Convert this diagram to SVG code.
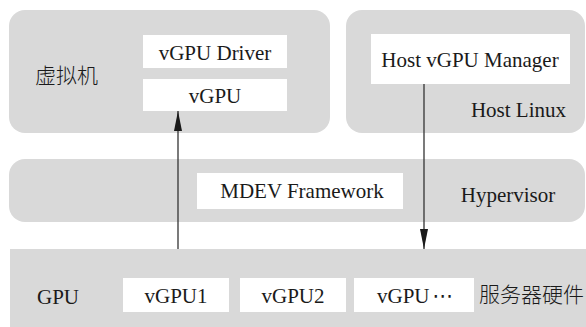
<svg xmlns="http://www.w3.org/2000/svg" width="586" height="327" viewBox="0 0 586 327">
  <style>
    .layer { fill: #d9d9d9; }
    .box { fill: #ffffff; }
    .mid { text-anchor: middle; }
    .end { text-anchor: end; }
    .link { stroke: #333333; stroke-width: 1.3; fill: none; }
  </style>
  <defs>
    <marker id="arrow" markerUnits="userSpaceOnUse" markerWidth="20" markerHeight="8" refX="20" refY="4" orient="auto">
      <path d="M0,0 L20,4 L0,8 Z" fill="#1a1a1a"/>
    </marker>
  </defs>

  <rect width="586" height="327" fill="#ffffff"/>

  <g font-family="Liberation Serif, DejaVu Serif, serif" font-size="21" fill="#1a1a1a">
    <!-- virtual machine layer -->
    <g id="vm">
      <rect class="layer" x="9" y="10" width="321" height="123" rx="16"/>
      <text x="35" y="83" font-family="Noto Sans CJK SC, sans-serif" font-weight="300">虚拟机</text>
    </g>
    <g id="vgpu-driver">
      <rect class="box" x="143" y="35" width="144" height="33"/>
      <text class="mid" x="215" y="60">vGPU Driver</text>
    </g>
    <g id="vgpu">
      <rect class="box" x="143" y="79" width="144" height="32"/>
      <text class="mid" x="215" y="103">vGPU</text>
    </g>

    <!-- host layer -->
    <g id="host-linux">
      <rect class="layer" x="346" y="10" width="239" height="123" rx="16"/>
      <text class="end" x="566" y="117">Host Linux</text>
    </g>
    <g id="host-vgpu-manager">
      <rect class="box" x="371" y="34" width="199" height="50"/>
      <text class="mid" x="470" y="67">Host vGPU Manager</text>
    </g>

    <!-- hypervisor layer -->
    <g id="hypervisor">
      <rect class="layer" x="9" y="159" width="576" height="63" rx="16"/>
      <text class="mid" x="508" y="202">Hypervisor</text>
    </g>
    <g id="mdev">
      <rect class="box" x="197" y="173" width="206" height="36"/>
      <text class="mid" x="302" y="198">MDEV Framework</text>
    </g>

    <!-- hardware layer -->
    <g id="gpu">
      <rect class="layer" x="10" y="249" width="590" height="90"/>
      <text x="37" y="304">GPU</text>
      <text x="479" y="302" font-family="Noto Sans CJK SC, sans-serif" font-weight="300">服务器硬件</text>
    </g>
    <g id="vgpu1">
      <rect class="box" x="123" y="278" width="106" height="34"/>
      <text class="mid" x="176" y="303">vGPU1</text>
    </g>
    <g id="vgpu2">
      <rect class="box" x="240" y="278" width="106" height="34"/>
      <text class="mid" x="293" y="303">vGPU2</text>
    </g>
    <g id="vgpu-more">
      <rect class="box" x="354" y="278" width="120" height="34"/>
      <text x="377" y="303">vGPU<tspan font-family="DejaVu Sans, sans-serif" dx="3">⋯</tspan></text>
    </g>
  </g>

  <!-- connectors -->
  <g id="connectors">
    <line class="link" x1="178" y1="249" x2="178" y2="111" marker-end="url(#arrow)"/>
    <line class="link" x1="424" y1="84" x2="424" y2="249" marker-end="url(#arrow)"/>
  </g>
</svg>
